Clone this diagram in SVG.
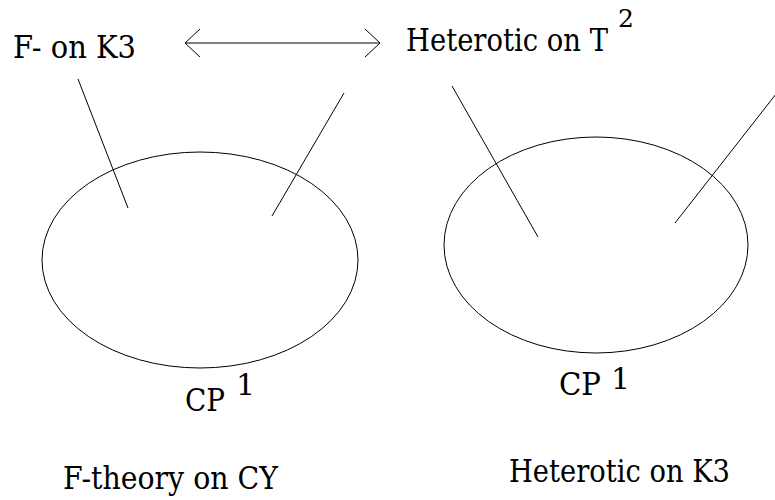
<svg xmlns="http://www.w3.org/2000/svg" width="775" height="500" viewBox="0 0 775 500">
<style>
text{font-family:"DejaVu Serif","Liberation Serif",serif;font-size:31px;fill:#000}
.sup{font-size:25px}
.one{font-size:30px}
.ln{stroke:#000;stroke-width:1;fill:none}
</style>
<rect width="775" height="500" fill="#fff"/>
<g id="left-space">
<ellipse class="ln" cx="200" cy="260" rx="158" ry="108"/>
<text x="185" y="411" textLength="40" lengthAdjust="spacingAndGlyphs">CP</text><text class="one" x="236" y="395">1</text>
<text x="63" y="489" textLength="215" lengthAdjust="spacingAndGlyphs">F-theory on CY</text>
</g>
<g id="right-space">
<ellipse class="ln" cx="596" cy="245" rx="152" ry="108"/>
<text x="559" y="395" textLength="42" lengthAdjust="spacingAndGlyphs">CP</text><text class="one" x="611" y="389">1</text>
<text x="509" y="482" textLength="221" lengthAdjust="spacingAndGlyphs">Heterotic on K3</text>
</g>
<g id="f-k3"><text x="13" y="58" textLength="123" lengthAdjust="spacingAndGlyphs">F- on K3</text></g>
<g id="het-t2"><text x="406" y="51" textLength="202" lengthAdjust="spacingAndGlyphs">Heterotic on T</text><text class="sup" x="618" y="27">2</text></g>
<g id="connectors">
<line class="ln" x1="78" y1="79" x2="128" y2="208"/>
<line class="ln" x1="344" y1="93" x2="272" y2="216"/>
<line class="ln" x1="452" y1="86" x2="538" y2="237"/>
<line class="ln" x1="776" y1="94" x2="675" y2="223"/>
<line class="ln" x1="185" y1="43" x2="380" y2="43"/>
<polyline class="ln" points="200,29 185,43 200,57"/>
<polyline class="ln" points="365,29 380,43 365,57"/>
</g>
</svg>
